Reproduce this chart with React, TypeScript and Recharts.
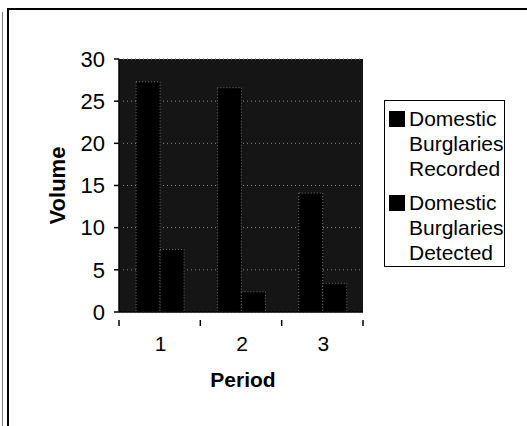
import React from 'react';
import { BarChart, Bar, XAxis, YAxis, CartesianGrid } from 'recharts';

// values
const periods = ['1', '2', '3'];
const recorded = [27.3, 26.6, 14.1];
const detected = [7.4, 2.4, 3.4];
const yTicks = [0, 5, 10, 15, 20, 25, 30];
const seriesNames = ['Domestic Burglaries Recorded', 'Domestic Burglaries Detected'];

const FONT = '"Liberation Sans", Arial, Helvetica, sans-serif';

const data = periods.map((p, i) => ({
  period: p,
  recorded: recorded[i],
  detected: detected[i],
}));

// category label plus Excel-style ticks on the category boundaries
function PeriodTick(props: any) {
  const { x, y, payload, index, width } = props;
  const bw = (width ?? 244) / periods.length;
  const isLast = index === periods.length - 1;
  return (
    <g>
      <line x1={x - bw / 2} y1={y} x2={x - bw / 2} y2={y + 6} stroke="#000" strokeWidth={1.5} />
      {isLast && (
        <line x1={x + bw / 2} y1={y} x2={x + bw / 2} y2={y + 6} stroke="#000" strokeWidth={1.5} />
      )}
      <text x={x + 1} y={y + 31} textAnchor="middle" fontSize={21} fontFamily={FONT} fill="#000">
        {payload.value}
      </text>
    </g>
  );
}

function VolumeLabel(props: any) {
  const vb = props.viewBox ?? { x: 0, y: 0, width: 0, height: 0 };
  const cx = vb.x + 57;
  const cy = vb.y + vb.height / 2;
  return (
    <text x={cx} y={cy} transform={`rotate(-90 ${cx} ${cy})`} textAnchor="middle"
      dominantBaseline="central" fontSize={22} fontWeight={700} fontFamily={FONT} fill="#000">
      Volume
    </text>
  );
}

function PeriodLabel(props: any) {
  const vb = props.viewBox ?? { x: 0, y: 0, width: 0, height: 0 };
  return (
    <text x={vb.x + vb.width / 2 + 2} y={vb.y + 75} textAnchor="middle"
      fontSize={21} fontWeight={700} fontFamily={FONT} fill="#000">
      Period
    </text>
  );
}

export default function App() {
  return (
    <div style={{ position: 'absolute', left: 0, top: 0, width: 527, height: 426, background: '#fff', overflow: 'hidden' }}>
      {/* scan frame */}
      <div style={{ position: 'absolute', left: 7, top: 8, width: 530, height: 430, borderTop: '2px solid #000', borderLeft: '2px solid #000' }} />
      <div style={{ position: 'absolute', left: 2, top: 12, width: 1, height: 414, background: '#777' }} />

      <div style={{ position: 'absolute', left: 0, top: 0 }}>
        <BarChart
          width={527}
          height={426}
          data={data}
          margin={{ top: 59, right: 164, bottom: 34, left: 0 }}
          barCategoryGap="21%"
          barGap={0}
        >
          <CartesianGrid
            vertical={false}
            fill="#151515"
            fillOpacity={1}
            stroke="#8a8a8a"
            strokeDasharray="1 3"
          />
          <XAxis
            dataKey="period"
            height={80}
            tickLine={false}
            axisLine={{ stroke: '#000', strokeWidth: 1.5 }}
            tick={<PeriodTick />}
            interval={0}
            label={<PeriodLabel />}
          />
          <YAxis
            width={119}
            domain={[0, 30]}
            ticks={yTicks}
            interval={0}
            tickSize={5}
            tickMargin={9}
            tickLine={{ stroke: '#000', strokeWidth: 1.5 }}
            axisLine={{ stroke: '#000', strokeWidth: 1.5 }}
            tick={{ fontSize: 22, fill: '#000', fontFamily: FONT }}
            label={<VolumeLabel />}
          />
          <Bar dataKey="recorded" name={seriesNames[0]} fill="#000" stroke="#777"
            strokeDasharray="1 2" strokeWidth={1} isAnimationActive={false} />
          <Bar dataKey="detected" name={seriesNames[1]} fill="#000" stroke="#777"
            strokeDasharray="1 2" strokeWidth={1} isAnimationActive={false} />
        </BarChart>
      </div>

      {/* legend box */}
      <div style={{
        position: 'absolute', left: 384, top: 100, width: 119, height: 165,
        border: '1.5px solid #000', background: '#fff', fontFamily: FONT,
        fontSize: 21, lineHeight: '25px', color: '#000',
      }}>
        {seriesNames.map((name, i) => (
          <div key={name} style={{ position: 'relative', paddingLeft: 24, paddingTop: i === 0 ? 5 : 9, width: 95 }}>
            <span style={{ position: 'absolute', left: 4, top: i === 0 ? 10 : 14, width: 16, height: 16, background: '#000' }} />
            {name}
          </div>
        ))}
      </div>
    </div>
  );
}
